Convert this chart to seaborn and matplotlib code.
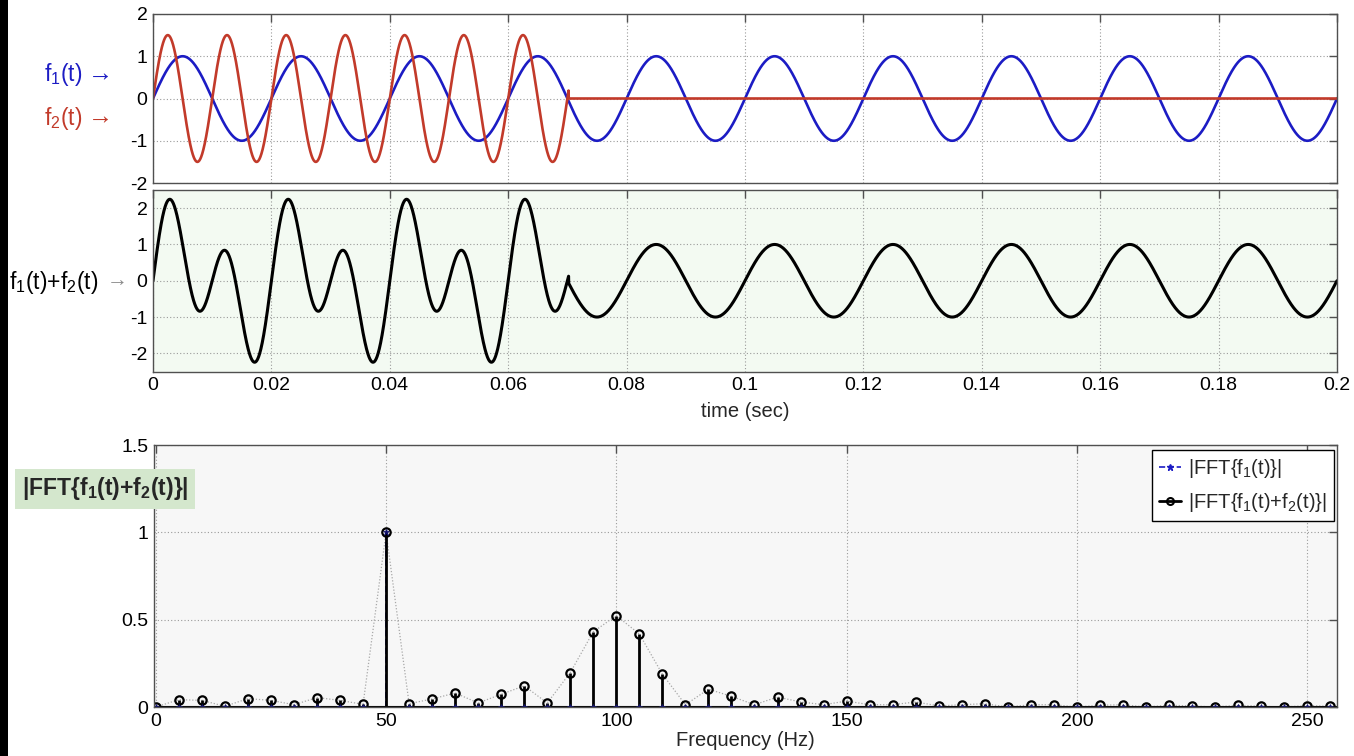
import numpy as np
import matplotlib
matplotlib.use("Agg")
import matplotlib.pyplot as plt
import seaborn as sns
from matplotlib.lines import Line2D
from matplotlib.patches import Rectangle

# ---------------- data ----------------
# time-domain signals (frequency, amplitude, duration)
time_range = [0.0, 0.2]
f1_freq_hz = 50
f1_amp = 1.0
f2_freq_hz = 100
f2_amp = 1.5
f2_end_sec = 0.0702

time_ticks = [0, 0.02, 0.04, 0.06, 0.08, 0.1, 0.12, 0.14, 0.16, 0.18, 0.2]
time_tick_labels = ["0", "0.02", "0.04", "0.06", "0.08", "0.1", "0.12", "0.14", "0.16", "0.18", "0.2"]

# spectrum
freq_bins = [0, 5, 10, 15, 20, 25, 30, 35, 40, 45, 50, 55, 60, 65, 70, 75, 80, 85, 90, 95,
             100, 105, 110, 115, 120, 125, 130, 135, 140, 145, 150, 155, 160, 165, 170, 175,
             180, 185, 190, 195, 200, 205, 210, 215, 220, 225, 230, 235, 240, 245, 250, 255]
fft_sum = [0.0, 0.042, 0.038, 0.004, 0.048, 0.038, 0.013, 0.054, 0.038, 0.015, 1.0, 0.019,
           0.046, 0.080, 0.023, 0.073, 0.121, 0.023, 0.197, 0.431, 0.523, 0.418, 0.188, 0.013,
           0.102, 0.061, 0.013, 0.057, 0.029, 0.013, 0.034, 0.013, 0.013, 0.029, 0.006, 0.013,
           0.019, 0.0, 0.013, 0.013, 0.0, 0.010, 0.013, 0.0, 0.010, 0.006, 0.0, 0.010, 0.004,
           0.0, 0.008, 0.004]
fft_f1 = [0.0, 0.0, 0.0, 0.0, 0.0, 0.0, 0.0, 0.0, 0.0, 0.0, 1.0, 0.0,
          0.0, 0.0, 0.0, 0.0, 0.0, 0.0, 0.0, 0.0, 0.0, 0.0, 0.0, 0.0,
          0.0, 0.0, 0.0, 0.0, 0.0, 0.0, 0.0, 0.0, 0.0, 0.0, 0.0, 0.0,
          0.0, 0.0, 0.0, 0.0, 0.0, 0.0, 0.0, 0.0, 0.0, 0.0, 0.0, 0.0, 0.0,
          0.0, 0.0, 0.0]
freq_ticks = [0, 50, 100, 150, 200, 250]
mag_ticks = [0, 0.5, 1, 1.5]

# ---------------- style ----------------
sns.set_theme(style="white")
plt.rcParams["font.family"] = ["Liberation Sans", "DejaVu Sans"]
plt.rcParams["mathtext.fontset"] = "custom"
plt.rcParams["mathtext.rm"] = "Liberation Sans"
plt.rcParams["mathtext.it"] = "Liberation Sans"
plt.rcParams["mathtext.bf"] = "Liberation Sans:bold"

BLUE = "#1c1cc4"
RED = "#c23a2a"
NAVY = "#10106e"
SPINE = "#505050"
TICKFS = 14

W, H = 1354, 756
fig = plt.figure(figsize=(W / 100, H / 100), dpi=100)
fig.patch.set_facecolor("white")


def ax_at(x0, y0, x1, y1):
    return fig.add_axes([x0 / W, 1 - y1 / H, (x1 - x0) / W, (y1 - y0) / H])


def matlab_style(ax, labelsize=TICKFS):
    for s in ax.spines.values():
        s.set_color(SPINE)
        s.set_linewidth(1.0)
    ax.tick_params(direction="in", length=6, width=1, colors=SPINE,
                   top=True, right=True, labelsize=labelsize, labelcolor="black", pad=4)
    ax.grid(True, linestyle=(0, (1, 2)), color="#9a9a9a", linewidth=0.8)
    ax.set_axisbelow(True)


t = np.linspace(time_range[0], time_range[1], 8001)
f1 = f1_amp * np.sin(2 * np.pi * f1_freq_hz * t)
f2 = np.where(t <= f2_end_sec, f2_amp * np.sin(2 * np.pi * f2_freq_hz * t), 0.0)
fsum = f1 + f2

# ---- top panel ----
ax1 = ax_at(153, 14, 1337, 183)
ax1.set_facecolor("white")
sns.lineplot(x=t, y=f1, ax=ax1, color=BLUE, linewidth=1.9, estimator=None, sort=False)
sns.lineplot(x=t, y=f2, ax=ax1, color=RED, linewidth=1.9, estimator=None, sort=False)
ax1.set_xlim(*time_range)
ax1.set_ylim(-2, 2)
ax1.set_yticks([-2, -1, 0, 1, 2])
ax1.set_yticklabels(["-2", "-1", "0", "1", "2"])
ax1.set_xticks(time_ticks)
ax1.set_xticklabels([])
matlab_style(ax1)
ax1.set_xlabel("")
ax1.set_ylabel("")

ARROW_FAMILY = ["Liberation Sans", "DejaVu Sans"]
fig.text(44 / W, 1 - 75 / H, r"$\mathregular{f_1(t)}$", color=BLUE, fontsize=16.5,
         ha="left", va="center")
fig.text(88 / W, 1 - 74 / H, "\u2192", color=BLUE, fontsize=18, family=ARROW_FAMILY,
         ha="left", va="center")
fig.text(44 / W, 1 - 118 / H, r"$\mathregular{f_2(t)}$", color=RED, fontsize=16.5,
         ha="left", va="center")
fig.text(88 / W, 1 - 117 / H, "\u2192", color=RED, fontsize=18, family=ARROW_FAMILY,
         ha="left", va="center")

# ---- middle panel ----
ax2 = ax_at(153, 190, 1337, 371.5)
ax2.set_facecolor("#f3faf2")
sns.lineplot(x=t, y=fsum, ax=ax2, color="black", linewidth=2.2, estimator=None, sort=False)
ax2.set_xlim(*time_range)
ax2.set_ylim(-2.5, 2.5)
ax2.set_yticks([-2, -1, 0, 1, 2])
ax2.set_yticklabels(["-2", "-1", "0", "1", "2"])
ax2.set_xticks(time_ticks)
ax2.set_xticklabels(time_tick_labels)
matlab_style(ax2)
ax2.set_ylabel("")
ax2.set_xlabel("time (sec)", fontsize=14.5, labelpad=6)

fig.text(9 / W, 1 - 282 / H, r"$\mathregular{f_1(t){+}f_2(t)}$", color="black", fontsize=16.5,
         ha="left", va="center")
fig.text(107 / W, 1 - 281 / H, "\u2192", color="#8a8a8a", fontsize=15, family=ARROW_FAMILY,
         ha="left", va="center")

# ---- bottom panel ----
ax3 = ax_at(154, 445, 1337, 707)
ax3.set_facecolor("#f7f7f7")
ax3.set_xlim(-0.4, 256.5)
ax3.set_ylim(0, 1.5)
matlab_style(ax3)

# dotted envelope connecting the stem tops
sns.lineplot(x=freq_bins, y=fft_sum, ax=ax3, color="#a8a8a8", linewidth=0.9,
             linestyle=(0, (1, 1.5)), estimator=None, sort=False)
# blue f1 stems (dashed)
ax3.vlines(freq_bins, 0, fft_f1, colors=BLUE, linestyles="--", linewidth=1.2)
# black stems
ax3.vlines(freq_bins, 0, fft_sum, colors="black", linewidth=2.0)
ax3.axhline(0, color="black", linewidth=1.5)
ax3.plot(freq_bins, fft_sum, linestyle="none", marker="o", markersize=6,
         markerfacecolor="none", markeredgecolor="black", markeredgewidth=1.6)
ax3.plot(freq_bins, fft_f1, linestyle="none", marker="*", markersize=5,
         color=NAVY, markeredgewidth=0.5)

ax3.set_xticks(freq_ticks)
ax3.set_xticklabels([str(v) for v in freq_ticks])
ax3.set_yticks(mag_ticks)
ax3.set_yticklabels(["0", "0.5", "1", "1.5"])
ax3.set_ylabel("")
ax3.set_xlabel("Frequency (Hz)", fontsize=14.5, labelpad=1)

handles = [
    Line2D([], [], color=BLUE, linestyle="--", marker="*", markersize=5, linewidth=1.2),
    Line2D([], [], color="black", linestyle="-", marker="o", markersize=5,
           markerfacecolor="none", markeredgewidth=1.5, linewidth=2),
]
leg = ax3.legend(handles, [r"|FFT{$\mathregular{f_1}$(t)}|",
                           r"|FFT{$\mathregular{f_1}$(t)+$\mathregular{f_2}$(t)}|"],
                 loc="upper right", bbox_to_anchor=(0.9975, 0.982), fontsize=14.5, frameon=True,
                 fancybox=False, framealpha=1, edgecolor="black", handlelength=1.1,
                 handletextpad=0.35, borderpad=0.35, labelspacing=0.55, borderaxespad=0.0)
leg.get_frame().set_linewidth(1.0)

fig.text(22 / W, 1 - 489 / H, r"|FFT{$\mathregular{f_1}$(t)+$\mathregular{f_2}$(t)}|",
         fontsize=16.5, fontweight="bold", ha="left", va="center",
         bbox=dict(boxstyle="square,pad=0.3", facecolor="#d4e7cd", edgecolor="none"))

# black strip at the left edge
fig.patches.append(Rectangle((0, 0), 8 / W, 1, transform=fig.transFigure,
                             facecolor="black", edgecolor="none", zorder=10))

fig.savefig("out.png", dpi=100, facecolor="white")
